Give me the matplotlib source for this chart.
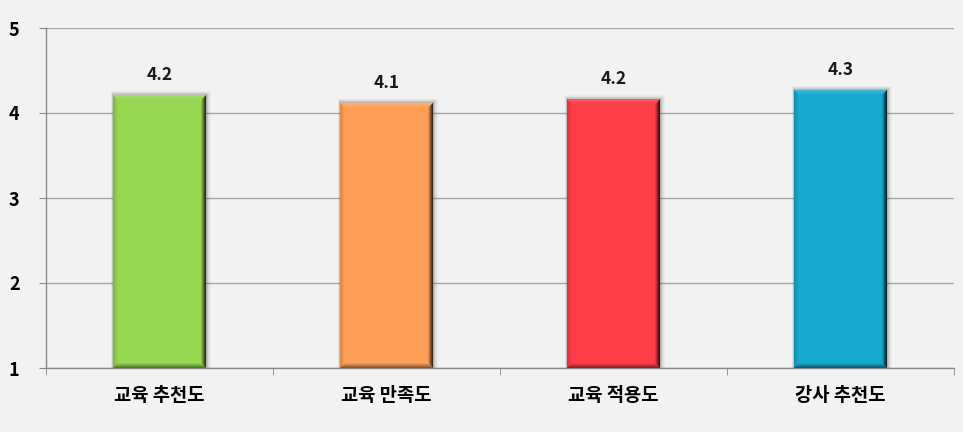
import matplotlib
matplotlib.use("Agg")
import matplotlib.pyplot as plt
from matplotlib.patches import Polygon, Rectangle
import matplotlib.colors as mcolors
import numpy as np

categories = ["교육 추천도", "교육 만족도", "교육 적용도", "강사 추천도"]
values = [4.21, 4.12, 4.16, 4.27]
labels = ["4.2", "4.1", "4.2", "4.3"]
colors = ["#97d651", "#ff9f57", "#ff3c48", "#16a9cd"]
yticks = [1, 2, 3, 4, 5]

plt.rcParams['font.family'] = ['Noto Sans CJK KR', 'DejaVu Sans']

fig = plt.figure(figsize=(9.63, 4.32), dpi=100)
fig.patch.set_facecolor("#f2f2f2")
ax = fig.add_axes([46/963, 1-368/432, (954-46)/963, (368-28)/432])
ax.set_facecolor("#f2f2f2")

x = np.arange(len(categories))
base = 1
bars = ax.bar(x, [v - base for v in values], bottom=base, width=0.41,
              color=colors, zorder=3, linewidth=0)

ax.set_xlim(-0.5, len(categories) - 0.5)
ax.set_ylim(1, 5)

px_x = (len(categories)) / 908.0
px_y = 4 / 340.0

def shade(c, f):
    r, g, b = mcolors.to_rgb(c)
    if f < 1:
        return (r*f, g*f, b*f)
    t = f - 1
    return (r + (1-r)*t, g + (1-g)*t, b + (1-b)*t)

N = 5
for b, c in zip(bars, colors):
    x0 = b.get_x(); w = b.get_width(); y0 = b.get_y(); h = b.get_height()
    x1 = x0 + w; y1 = y0 + h
    # soft shadow (mostly right and top)
    for i, a in zip(range(6, 0, -1), [0.03, 0.04, 0.05, 0.06, 0.07, 0.08]):
        ax.add_patch(Rectangle((x0 - i*px_x*0.3, y0), w + i*px_x*1.1, h + i*px_y*0.7,
                               facecolor="#303030", alpha=a, linewidth=0, zorder=2))
    # bevel strips, drawn from outer to inner
    for k in range(N):
        o = k * px_x; ob = k * px_y
        i_ = (k + 1) * px_x; ib = (k + 1) * px_y
        t = k / (N - 1)  # 0 outer, 1 inner
        # top (lighter, soft)
        ax.add_patch(Polygon([(x0 + o, y1 - ob), (x1 - o, y1 - ob), (x1 - i_, y1 - ib), (x0 + i_, y1 - ib)],
                             closed=True, facecolor=shade(c, 1.18 - 0.15*t), linewidth=0, zorder=4))
        # left
        ax.add_patch(Polygon([(x0 + o, y0 + ob), (x0 + o, y1 - ob), (x0 + i_, y1 - ib), (x0 + i_, y0 + ib)],
                             closed=True, facecolor=shade(c, 0.85 + 0.13*t), linewidth=0, zorder=4))
        # right (dark)
        ax.add_patch(Polygon([(x1 - o, y0 + ob), (x1 - o, y1 - ob), (x1 - i_, y1 - ib), (x1 - i_, y0 + ib)],
                             closed=True, facecolor=shade(c, 0.2 + 0.7*t), linewidth=0, zorder=4))
        # bottom
        ax.add_patch(Polygon([(x0 + o, y0 + ob), (x1 - o, y0 + ob), (x1 - i_, y0 + ib), (x0 + i_, y0 + ib)],
                             closed=True, facecolor=shade(c, 0.55 + 0.4*t), linewidth=0, zorder=4))

for b, lab in zip(bars, labels):
    ax.annotate(lab, (b.get_x() + b.get_width()/2, b.get_y() + b.get_height()),
                xytext=(0, 8), textcoords="offset points", ha="center", va="bottom",
                fontsize=12.5, fontweight="bold", color="#1a1a1a", zorder=5)

ax.set_yticks(yticks)
ax.set_yticklabels([str(t) for t in yticks], fontsize=13, fontweight="bold")
ax.yaxis.grid(True, color="#a6a6a6", linewidth=1, zorder=0)
ax.set_axisbelow(True)

ax.set_xticks(x)
ax.set_xticklabels(categories, fontsize=13.5, fontweight="bold")
ax.set_xticks(np.arange(-0.5, len(categories)), minor=True)
ax.tick_params(axis="x", which="major", length=0, pad=13)
ax.tick_params(axis="x", which="minor", length=5, color="#888888", direction="out")
ax.tick_params(axis="y", length=5, color="#888888", pad=14)

for s in ["top", "right"]:
    ax.spines[s].set_visible(False)
for s in ["left", "bottom"]:
    ax.spines[s].set_color("#888888")
    ax.spines[s].set_linewidth(1)

fig.savefig("out.png", dpi=100, facecolor=fig.get_facecolor())
